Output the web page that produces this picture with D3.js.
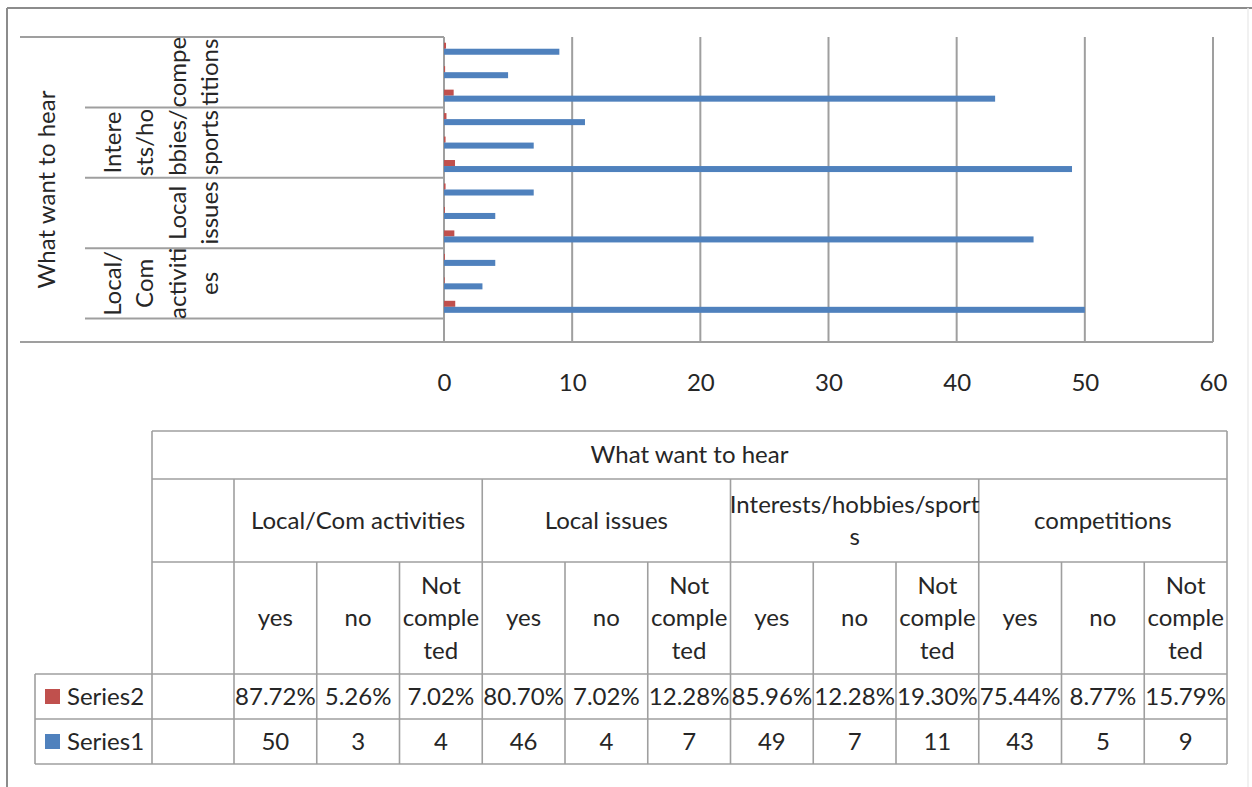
<!DOCTYPE html>
<html>
<head>
<meta charset="utf-8">
<script src="https://cdn.jsdelivr.net/npm/d3@7"></script>
<style>
  body { margin: 0; background: #fff; }
  svg { display: block; font-family: Lato, 'Open Sans', sans-serif; }
</style>
</head>
<body>
<svg id="chart" width="1252" height="787"></svg>
<script>
const axisTitle = 'What want to hear';
const groups = ['Local/Com activities', 'Local issues', 'Interests/hobbies/sports', 'competitions'];
// group labels as they wrap on the category axis
const groupAxisLines = [['Local/', 'Com', 'activiti', 'es'], ['Local', 'issues'], ['Intere', 'sts/ho', 'bbies/', 'sports'], ['compe', 'titions']];
// group labels as they wrap in the data table
const groupTableLines = [['Local/Com activities'], ['Local issues'], ['Interests/hobbies/sport', 's'], ['competitions']];
const answers = ['yes', 'no', 'Not completed'];
const answerLines = [['yes'], ['no'], ['Not', 'comple', 'ted']];
const seriesNames = ['Series2', 'Series1'];
const series1 = [50, 3, 4, 46, 4, 7, 49, 7, 11, 43, 5, 9];
const series2 = [0.8772, 0.0526, 0.0702, 0.8070, 0.0702, 0.1228, 0.8596, 0.1228, 0.1930, 0.7544, 0.0877, 0.1579];
const xTicks = [0, 10, 20, 30, 40, 50, 60];

const colours = { Series1: '#4F81BD', Series2: '#C0504D' };
const fontSize = 24;
const lineH = 32.5;
const textColour = '#262626';
const lineColour = '#9f9f9f';

const svg = d3.select('#chart');

// outer chart border
svg.append('line').attr('x1', 7).attr('x2', 7).attr('y1', 8).attr('y2', 787)
  .style('stroke', '#8c8c8c').style('stroke-width', 2);
svg.append('line').attr('x1', 7).attr('x2', 1252).attr('y1', 8).attr('y2', 8)
  .style('stroke', '#8c8c8c').style('stroke-width', 2);
svg.append('line').attr('x1', 1248).attr('x2', 1248).attr('y1', 8).attr('y2', 787)
  .style('stroke', '#ececec').style('stroke-width', 1.5);

// one leaf per group/answer, plus the blank first category (drawn at the bottom)
const leaves = [{ key: 'blank', idx: -1 }].concat(
  groups.flatMap((g, gi) => answers.map((a, ai) => ({ key: g + '|' + a, group: gi, answer: ai, idx: gi * 3 + ai })))
);

const plot = { left: 444, right: 1213, top: 37, bottom: 342 };

const x = d3.scaleLinear().domain([0, 60]).range([plot.left, plot.right]);
const y = d3.scaleBand()
  .domain(leaves.map(d => d.key).reverse())
  .range([plot.top, plot.bottom]);
const sub = d3.scaleBand().domain(seriesNames).range([0, y.bandwidth()]).paddingOuter(0.95);

// gridlines
svg.append('g').selectAll('line')
  .data(xTicks)
  .enter().append('line')
  .attr('x1', d => x(d)).attr('x2', d => x(d))
  .attr('y1', plot.top).attr('y2', plot.bottom)
  .style('stroke', lineColour).style('stroke-width', 2);

// category axis frame
const groupTop = gi => y(groups[gi] + '|' + answers[2]);
const groupBottom = gi => y(groups[gi] + '|' + answers[0]) + y.bandwidth();

svg.append('line').attr('x1', 20).attr('x2', plot.left).attr('y1', plot.top).attr('y2', plot.top)
  .style('stroke', lineColour).style('stroke-width', 2);
svg.append('line').attr('x1', 20).attr('x2', plot.right).attr('y1', plot.bottom).attr('y2', plot.bottom)
  .style('stroke', lineColour).style('stroke-width', 2);
svg.append('g').selectAll('line')
  .data(groups.map((g, gi) => groupBottom(gi)).concat([groupTop(3)]))
  .enter().append('line')
  .attr('x1', 85).attr('x2', plot.left)
  .attr('y1', d => d).attr('y2', d => d)
  .style('stroke', lineColour).style('stroke-width', 2);

// bars
const barData = leaves.filter(d => d.idx >= 0).flatMap(d => [
  { key: d.key, series: 'Series2', value: series2[d.idx] },
  { key: d.key, series: 'Series1', value: series1[d.idx] }
]);
svg.append('g').selectAll('rect')
  .data(barData)
  .enter().append('rect')
  .attr('x', x(0))
  .attr('y', d => y(d.key) + sub(d.series))
  .attr('width', d => x(d.value) - x(0))
  .attr('height', sub.bandwidth())
  .style('fill', d => colours[d.series]);

// value axis labels
const xAxis = svg.append('g')
  .attr('transform', `translate(0, 383)`)
  .call(d3.axisBottom(x).tickValues(xTicks).tickSize(0).tickFormat(d3.format('d')));
xAxis.select('.domain').remove();
xAxis.selectAll('text')
  .attr('y', 0).attr('dy', '0.35em')
  .style('font-family', 'Lato, sans-serif')
  .style('font-size', fontSize + 'px')
  .style('fill', textColour);

// rotated axis title and group labels
svg.append('text')
  .attr('transform', `translate(47, ${(plot.top + plot.bottom) / 2}) rotate(-90)`)
  .attr('text-anchor', 'middle').attr('dy', '0.35em')
  .style('font-size', fontSize + 'px').style('fill', textColour)
  .text(axisTitle);

groupAxisLines.forEach((lines, gi) => {
  const cy = (groupTop(gi) + groupBottom(gi)) / 2;
  lines.forEach((t, j) => {
    const lx = 210 - (lines.length - 1 - j) * lineH;
    svg.append('text')
      .attr('transform', `translate(${lx}, ${cy}) rotate(-90)`)
      .attr('text-anchor', 'middle').attr('dy', '0.35em')
      .style('font-size', fontSize + 'px').style('fill', textColour)
      .text(t);
  });
});

// data table
const rows = [431, 479, 562, 674, 719, 764];
const tLeft = 152, tBlank = 234, tRight = 1227, legLeft = 35;
const col = d3.scaleBand()
  .domain(leaves.filter(d => d.idx >= 0).map(d => d.key))
  .range([tBlank, tRight]);

const table = svg.append('g').style('stroke', lineColour).style('stroke-width', 1.6);
const hLines = [
  [tLeft, rows[0]], [tLeft, rows[1]], [tLeft, rows[2]],
  [legLeft, rows[3]], [legLeft, rows[4]], [legLeft, rows[5]]
];
table.selectAll('.h').data(hLines).enter().append('line')
  .attr('x1', d => d[0]).attr('x2', tRight).attr('y1', d => d[1]).attr('y2', d => d[1]);

const vLines = [[tLeft, rows[0]], [tRight, rows[0]], [tBlank, rows[1]], [legLeft, rows[3]]]
  .concat(groups.slice(1).map((g, gi) => [col(g + '|' + answers[0]), rows[1]]))
  .concat(leaves.filter(d => d.idx >= 0 && d.answer > 0).map(d => [col(d.key), rows[2]]));
table.selectAll('.v').data(vLines).enter().append('line')
  .attr('x1', d => d[0]).attr('x2', d => d[0]).attr('y1', d => d[1]).attr('y2', rows[5]);

function cellText(cx, cy, lines) {
  lines.forEach((t, j) => {
    svg.append('text')
      .attr('x', cx)
      .attr('y', cy + (j - (lines.length - 1) / 2) * lineH)
      .attr('text-anchor', 'middle').attr('dy', '0.35em')
      .style('font-size', fontSize + 'px').style('fill', textColour)
      .text(t);
  });
}

cellText((tLeft + tRight) / 2, (rows[0] + rows[1]) / 2, [axisTitle]);
groups.forEach((g, gi) => {
  const x0 = col(g + '|' + answers[0]);
  const x1 = col(g + '|' + answers[2]) + col.bandwidth();
  cellText((x0 + x1) / 2, (rows[1] + rows[2]) / 2, groupTableLines[gi]);
});

const pct = d3.format('.2%');
leaves.filter(d => d.idx >= 0).forEach(d => {
  const cx = col(d.key) + col.bandwidth() / 2;
  cellText(cx, (rows[2] + rows[3]) / 2, answerLines[d.answer]);
  cellText(cx, (rows[3] + rows[4]) / 2, [pct(series2[d.idx])]);
  cellText(cx, (rows[4] + rows[5]) / 2, [String(series1[d.idx])]);
});

// legend keys in the table
seriesNames.forEach((s, i) => {
  const cy = (rows[3 + i] + rows[4 + i]) / 2;
  svg.append('rect')
    .attr('x', 45).attr('y', cy - 7.5).attr('width', 15).attr('height', 15)
    .style('fill', colours[s]);
  svg.append('text')
    .attr('x', 67).attr('y', cy).attr('dy', '0.35em')
    .style('font-size', fontSize + 'px').style('fill', textColour)
    .text(s);
});
</script>
</body>
</html>
